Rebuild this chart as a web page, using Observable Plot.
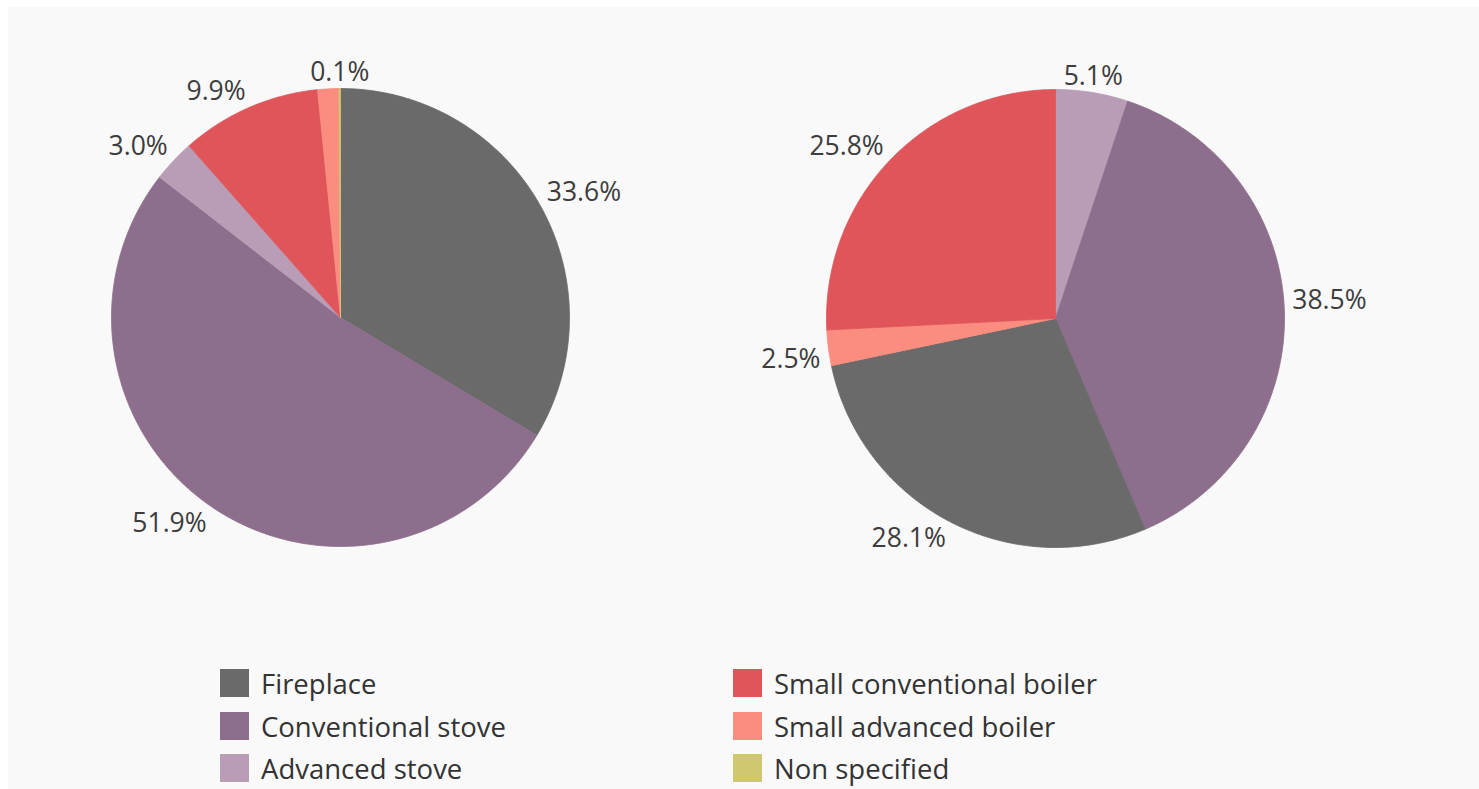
<!DOCTYPE html>
<html>
<head>
<meta charset="utf-8">
<script src="https://cdn.jsdelivr.net/npm/d3@7"></script>
<script src="https://cdn.jsdelivr.net/npm/@observablehq/plot@0.6"></script>
<style>
  html, body { margin: 0; padding: 0; background: #ffffff; }
  #panel { position: absolute; left: 8px; top: 7px; width: 1471px; height: 782px; background: #f9f9f9; font-family: "Open Sans", sans-serif; }
  #chart { position: absolute; left: 0; top: 0; }
  #legend { position: absolute; left: 0; top: 662px; width: 1471px; }
  .item { position: absolute; display: flex; align-items: center; height: 28px; }
  .sw { width: 29px; height: 28px; margin-right: 12px; }
  .lbl { font-size: 27.5px; color: #333333; line-height: 28px; white-space: nowrap; position: relative; top: 1px; }
</style>
</head>
<body>
<div id="panel">
  <div id="chart"></div>
  <div id="legend"></div>
</div>
<script>
// ---- data ----
const categories = ["Fireplace", "Conventional stove", "Advanced stove", "Small conventional boiler", "Small advanced boiler", "Non specified"];
const colors = ["#6a6a6a", "#8d6e8c", "#b99cb5", "#e0555a", "#fb8d80", "#cfc86e"];

// left pie, clockwise from 12 o'clock
const leftNames  = ["Fireplace", "Conventional stove", "Advanced stove", "Small conventional boiler", "Small advanced boiler", "Non specified"];
const leftValues = [33.6, 51.9, 3.0, 9.9, 1.5, 0.1];
const leftShown  = [true, true, true, true, false, true];

// right pie, clockwise from 12 o'clock
const rightNames  = ["Advanced stove", "Conventional stove", "Fireplace", "Small advanced boiler", "Small conventional boiler"];
const rightValues = [5.1, 38.5, 28.1, 2.5, 25.8];
const rightShown  = [true, true, true, true, true];

// legend layout order (two columns)
const legendCol1 = ["Fireplace", "Conventional stove", "Advanced stove"];
const legendCol2 = ["Small conventional boiler", "Small advanced boiler", "Non specified"];

// ---- geometry (unit radius pies) ----
const W = 1471, H = 640, PX = 229;           // pixels per unit radius
const leftCenter = [0, 0];
const rightCenter = [715 / PX, -1 / PX];
const xDomain = [-332 / PX, (W - 332) / PX];
const yDomain = [-(H - 310) / PX, 310 / PX];
const labelR = 1 + 8 / PX;

function buildPie(names, values, shown, center, pieId) {
  const arcs = d3.pie().sort(null).value(d => d)(values);
  const pts = [];
  const labels = [];
  arcs.forEach((a, i) => {
    const key = pieId + "-" + i;
    const cat = names[i];
    pts.push({key, cat, x: center[0], y: center[1]});
    const n = Math.max(2, Math.ceil((a.endAngle - a.startAngle) / (Math.PI / 360)));
    for (let k = 0; k <= n; k++) {
      const t = a.startAngle + (a.endAngle - a.startAngle) * k / n;
      pts.push({key, cat, x: center[0] + Math.sin(t), y: center[1] + Math.cos(t)});
    }
    pts.push({key, cat, x: center[0], y: center[1]});
    if (shown[i]) {
      const m = (a.startAngle + a.endAngle) / 2;
      const s = Math.sin(m), c = Math.cos(m);
      labels.push({
        x: center[0] + labelR * s,
        y: center[1] + labelR * c,
        text: values[i].toFixed(1) + "%",
        ta: Math.abs(s) < 0.2 ? "middle" : (s > 0 ? "start" : "end"),
        la: c > 0 ? "bottom" : "top"
      });
    }
  });
  return {pts, labels};
}

const L = buildPie(leftNames, leftValues, leftShown, leftCenter, "L");
const Rp = buildPie(rightNames, rightValues, rightShown, rightCenter, "R");
const slicePts = L.pts.concat(Rp.pts);
const labelPts = L.labels.concat(Rp.labels);

const labelMarks = [];
for (const ta of ["start", "middle", "end"]) {
  for (const la of ["top", "bottom"]) {
    labelMarks.push(Plot.text(labelPts.filter(d => d.ta === ta && d.la === la), {
      x: "x", y: "y", text: "text", textAnchor: ta, lineAnchor: la, fontSize: 26.5, fill: "#3d3d3d"
    }));
  }
}

const chart = Plot.plot({
  width: W,
  height: H,
  margin: 0,
  x: {domain: xDomain, axis: null},
  y: {domain: yDomain, axis: null},
  color: {domain: categories, range: colors},
  style: {background: "transparent", fontFamily: "'Open Sans', sans-serif", overflow: "visible"},
  marks: [
    Plot.line(slicePts, {x: "x", y: "y", z: "key", fill: "cat", stroke: "cat", strokeWidth: 0.8, curve: "linear"}),
    ...labelMarks
  ]
});
document.getElementById("chart").appendChild(chart);

// ---- legend ----
const legend = document.getElementById("legend");
const colorOf = c => colors[categories.indexOf(c)];
[[legendCol1, 212], [legendCol2, 725]].forEach(([col, left]) => {
  col.forEach((c, r) => {
    const item = document.createElement("div");
    item.className = "item";
    item.style.left = left + "px";
    item.style.top = (r * 42.5) + "px";
    const sw = document.createElement("div");
    sw.className = "sw";
    sw.style.background = colorOf(c);
    const lb = document.createElement("span");
    lb.className = "lbl";
    lb.textContent = c;
    item.appendChild(sw);
    item.appendChild(lb);
    legend.appendChild(item);
  });
});
</script>
</body>
</html>
